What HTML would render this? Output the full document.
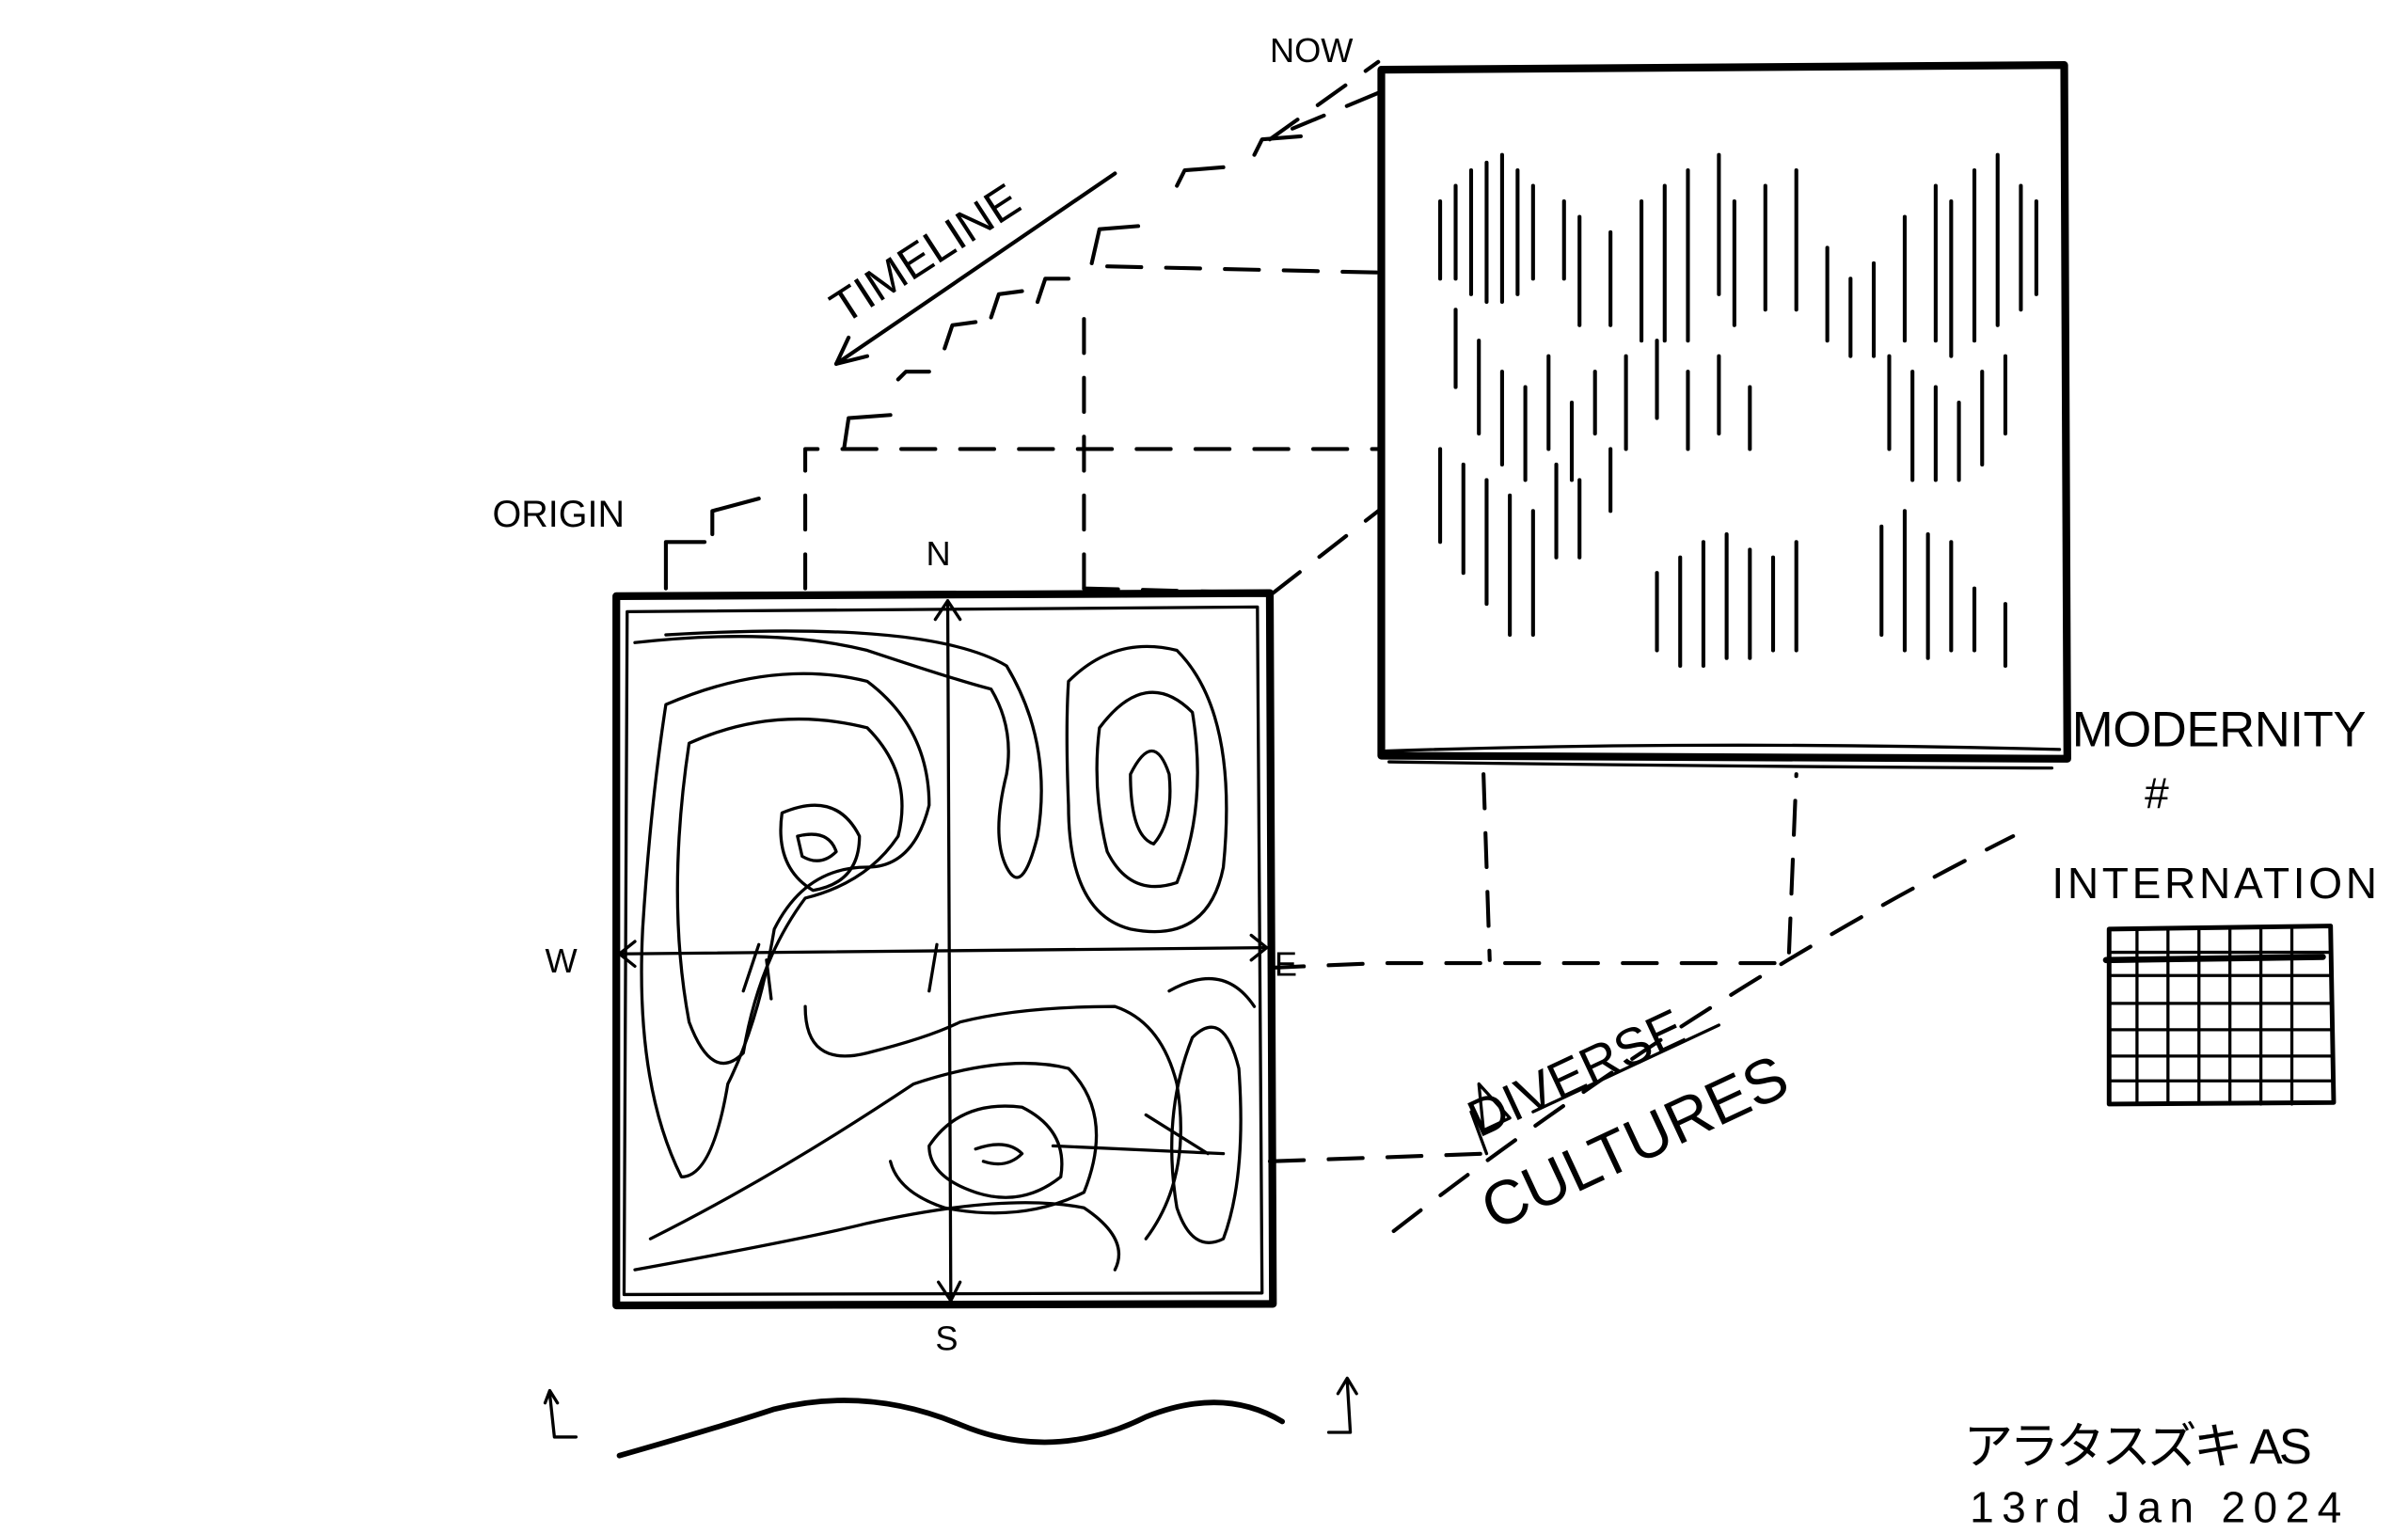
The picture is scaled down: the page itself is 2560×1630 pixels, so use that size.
<!DOCTYPE html>
<html><head><meta charset="utf-8"><style>
html,body{margin:0;padding:0;background:#fff;}
svg{display:block;}
text{font-family:"Liberation Sans","Noto Sans CJK JP",sans-serif;fill:#000;}
</style></head><body>
<svg width="2560" height="1630" viewBox="0 0 1555 990" preserveAspectRatio="none" xmlns="http://www.w3.org/2000/svg">
<rect width="1555" height="990" fill="#fff"/>
<g fill="none" stroke="#000" stroke-linecap="round" stroke-linejoin="round">
<path d="M398 385 L820 383 L822 842 L398 843 Z" stroke-width="5"/>
<path d="M405 395 L812 392 L815 835 L403 836 Z" stroke-width="2"/>
<path d="M892 45 L1333 42 L1335 490 L892 488 Z" stroke-width="5"/>
<path d="M895 485 Q1100 478 1330 484 M897 492 Q1100 495 1325 496" stroke-width="2"/>
<path d="M612 388 L614 840 M400 616 L818 612" stroke-width="2"/>
<path d="M604 400 L612 388 L620 400 M606 828 L614 840 L620 828 M410 608 L400 616 L410 624 M808 604 L818 612 L808 620" stroke-width="2"/>
<path d="M410 415 Q500 405 560 420 Q620 440 640 445 Q655 470 650 500 Q640 540 650 560 Q660 580 670 540 Q680 480 650 430 Q600 400 430 410" stroke-width="2"/>
<path d="M430 455 Q500 425 560 440 Q600 470 600 520 Q590 560 560 560 Q520 560 500 600 Q490 660 470 700 Q460 760 440 760 Q410 700 415 600 Q420 520 430 455Z" stroke-width="2"/>
<path d="M445 480 Q500 455 560 470 Q590 500 580 540 Q560 570 520 580 Q490 620 480 680 Q460 700 445 660 Q430 580 445 480Z" stroke-width="2"/>
<path d="M505 525 Q540 510 555 540 Q555 570 525 575 Q500 560 505 525Z" stroke-width="2"/>
<path d="M515 540 Q535 535 540 550 Q530 560 518 553Z" stroke-width="2"/>
<path d="M690 440 Q720 410 760 420 Q800 460 790 560 Q780 610 730 600 Q690 590 690 520 Q688 470 690 440Z" stroke-width="2"/>
<path d="M710 470 Q740 430 770 460 Q780 520 760 570 Q730 580 715 550 Q705 510 710 470Z" stroke-width="2"/>
<path d="M730 500 Q745 470 755 500 Q758 530 745 545 Q730 540 730 500Z" stroke-width="2"/>
<path d="M520 650 Q520 690 560 680 Q600 670 620 660 Q660 650 720 650 Q750 660 760 700 Q770 760 740 800" stroke-width="2"/>
<path d="M410 820 Q520 800 560 790 Q650 770 700 780 Q730 800 720 820 M420 800 Q500 760 590 700 Q650 680 690 690 Q720 720 700 770 Q660 790 610 780 Q580 770 575 750" stroke-width="2"/>
<path d="M600 740 Q620 710 660 715 Q690 730 685 760 Q660 780 630 770 Q600 760 600 740Z" stroke-width="2"/>
<path d="M630 742 Q650 735 660 745 Q650 755 635 750" stroke-width="2"/>
<path d="M770 670 Q790 650 800 690 Q805 760 790 800 Q770 810 760 780 Q750 720 770 670Z" stroke-width="2"/>
<path d="M755 640 Q790 620 810 650 M740 720 L780 745 M680 740 L790 745" stroke-width="2"/>
<path d="M600 640 L605 610 M490 610 L480 640 M495 620 L498 645" stroke-width="2"/>
<g stroke-width="2.5" stroke-dasharray="22 16">
<path d="M520 380 L520 290 L890 290"/>
<path d="M700 380 L700 200"/>
<path d="M715 172 L890 176"/>
<path d="M822 383 L890 330"/>
<path d="M820 625 L890 622 L1155 622 L1160 500"/>
<path d="M958 500 L962 620"/>
<path d="M820 750 L960 745"/>
<path d="M900 795 Q1100 640 1300 540"/>
<path d="M890 60 L830 85 M700 380 L820 383"/>
<path d="M820 90 L890 40"/>
</g>
<path d="M430 380 L430 350 L455 350 M460 345 L460 330 L490 322 M545 290 L548 270 L575 268 M580 245 L585 240 L600 240 M610 225 L615 210 L630 208 M640 205 L645 190 L660 188 M670 195 L675 180 L690 180 M705 170 L710 148 L735 146 M760 120 L765 110 L790 108 M810 100 L815 90 L840 88" stroke-width="2.5"/>
<path d="M540 235 L720 112 M540 235 L560 230 M540 235 L548 218" stroke-width="2.5"/>
<path d="M400 940 Q470 920 500 910 Q560 895 620 920 Q680 945 740 915 Q790 895 828 918" stroke-width="3.5"/>
<path d="M355 900 L358 928 L372 928 M352 906 L355 898 L360 906" stroke-width="2"/>
<path d="M858 925 L872 925 L870 892 M864 900 L870 890 L876 900" stroke-width="2"/>
<g stroke-width="2.5">
<path d="M930 130v50M940 120v60M950 110v80M960 105v90M970 100v95M980 110v80M990 120v60M1010 130v50M1020 140v70M1040 150v60M1060 130v90M1075 120v100M1090 110v110M1110 100v90M1120 130v80M1140 120v80M1160 110v90M1180 160v60M1195 180v50M1210 170v60M1230 140v80M1250 120v100M1260 130v100M1275 110v110M1290 100v110M1305 120v80M1315 130v60"/>
<path d="M940 200v50M955 220v60M970 240v60M985 250v60M1000 230v60M1015 260v50M1030 240v40M1050 230v60M1070 220v50M1090 240v50M1110 230v50M1130 250v40M1220 230v60M1235 240v70M1250 250v60M1265 260v50M1280 240v60M1295 230v50"/>
<path d="M930 290v60M945 300v70M960 310v80M975 320v90M990 330v80M1005 300v60M1020 310v50M1040 290v40M1070 370v50M1085 360v70M1100 350v80M1115 345v80M1130 355v70M1145 360v60M1160 350v70M1215 340v70M1230 330v90M1245 345v80M1260 350v70M1275 380v40M1295 390v40"/>
</g>
<path d="M1362 600 L1505 598 L1507 712 L1362 713 Z" stroke-width="3"/>
<path d="M1362 615h143M1362 630h143M1362 648h143M1362 665h143M1362 682h143M1362 698h143M1380 600v113M1400 600v113M1420 600v113M1440 600v113M1460 600v113M1480 600v113" stroke-width="2"/>
<path d="M1360 620 L1500 618" stroke-width="4"/>
<path d="M955 700 L958 730 L975 722 Z M950 718 L960 745" stroke-width="2"/>
<path d="M990 718 L1110 662" stroke-width="2"/>
</g>
<text x="820" y="40" font-size="22">NOW</text>
<text x="318" y="340" font-size="24">ORIGIN</text>
<text x="598" y="365" font-size="22">N</text>
<text x="352" y="628" font-size="22">W</text>
<text x="823" y="630" font-size="22">E</text>
<text x="604" y="872" font-size="22">S</text>
<text x="0" y="0" font-size="30" transform="translate(545,210) rotate(-33)">TIMELINE</text>
<text x="1338" y="482" font-size="32" textLength="190">MODERNITY</text>
<text x="1385" y="522" font-size="28">#</text>
<text x="1325" y="580" font-size="28" textLength="210">INTERNATION</text>
<text x="0" y="0" font-size="34" transform="translate(955,735) rotate(-25)">DIVERSE</text>
<text x="0" y="0" font-size="40" transform="translate(965,795) rotate(-25)">CULTURES</text>
<text x="1268" y="945" font-size="32" textLength="225">アラタスズキ AS</text>
<text x="1272" y="983" font-size="28" textLength="240">13rd Jan 2024</text>
</svg>
</body></html>
